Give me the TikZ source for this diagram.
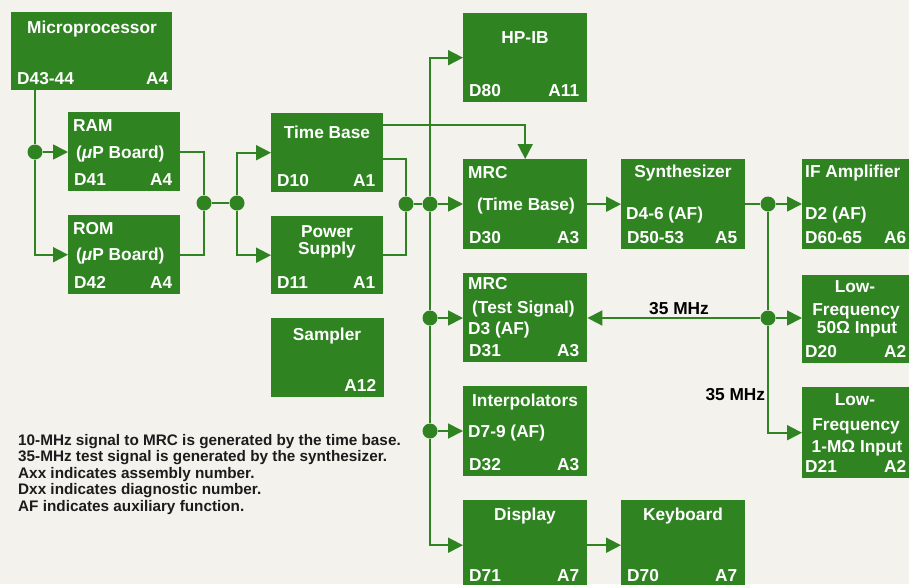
\documentclass[tikz,border=0pt]{standalone}
\usepackage{fontspec}
\setmainfont{Liberation Sans}
\usetikzlibrary{arrows.meta}

\begin{document}
\begin{tikzpicture}[x=1pt, y=-1pt,
    block/.style={fill=boxGreen, inner sep=0pt, anchor=north west},
    lbl/.style={text=white, inner sep=0pt, font=\bfseries\fontsize{17.3}{20}\selectfont},
    dnum/.style={lbl, anchor=base west, xshift=6pt, yshift=6pt},
    anum/.style={lbl, anchor=base east, xshift=-8pt, yshift=6pt},
    wire/.style={draw=boxGreen, line width=1.8pt},
    arr/.style={wire, -{Triangle[length=15pt, width=15pt]}},
    dot/.style={circle, fill=boxGreen, inner sep=0pt, minimum size=15pt},
    freq/.style={text=black, font=\bfseries\fontsize{17.3}{20}\selectfont}]

    % Define colours
    \definecolor{boxGreen}{HTML}{2F8321}
    \definecolor{paperColour}{HTML}{F4F2ED}
    \definecolor{noteColour}{HTML}{1C1C1C}

    % Paper
    \fill[paperColour] (0,0) rectangle (909,584);
    \useasboundingbox (0,0) rectangle (909,584);

    % Draw blocks
    \node[block, minimum width=161pt, minimum height=78pt] (micro) at (11,12) {};
    \node[block, minimum width=112pt, minimum height=79pt] (ram) at (68,112) {};
    \node[block, minimum width=112pt, minimum height=79pt] (rom) at (68,215) {};
    \node[block, minimum width=112pt, minimum height=79pt] (tb) at (271,113) {};
    \node[block, minimum width=112pt, minimum height=78pt] (ps) at (271,216) {};
    \node[block, minimum width=113pt, minimum height=79pt] (sampler) at (271,318) {};
    \node[block, minimum width=124pt, minimum height=89pt] (hpib) at (463,13) {};
    \node[block, minimum width=124pt, minimum height=90pt] (mrctb) at (463,159) {};
    \node[block, minimum width=124pt, minimum height=89pt] (mrcts) at (463,273) {};
    \node[block, minimum width=124pt, minimum height=90pt] (interp) at (463,386) {};
    \node[block, minimum width=124pt, minimum height=90pt] (disp) at (463,500) {};
    \node[block, minimum width=124pt, minimum height=90pt] (keyb) at (621,500) {};
    \node[block, minimum width=124pt, minimum height=90pt] (synth) at (621,159) {};
    \node[block, minimum width=118pt, minimum height=90pt] (ifamp) at (802,159) {};
    \node[block, minimum width=118pt, minimum height=88pt] (lfa) at (802,275) {};
    \node[block, minimum width=118pt, minimum height=91pt] (lfb) at (802,387) {};

    % Block texts
    \node[lbl, anchor=base] (microT) at (92,33) {Microprocessor};
    \node[dnum] (microD) at (micro.south west) {D43-44};
    \node[anum, xshift=4pt] (microA) at (micro.south east) {A4};

    \node[lbl, anchor=base west] (ramT) at (73,131) {RAM};
    \node[lbl, anchor=base west] (ramB) at (76,158) {(\textit{μ}P Board)};
    \node[dnum] (ramD) at (ram.south west) {D41};
    \node[anum] (ramA) at (ram.south east) {A4};

    \node[lbl, anchor=base west] (romT) at (73,234) {ROM};
    \node[lbl, anchor=base west] (romB) at (76,260) {(\textit{μ}P Board)};
    \node[dnum] (romD) at (rom.south west) {D42};
    \node[anum] (romA) at (rom.south east) {A4};

    \node[lbl, anchor=base] (tbT) at (327,138) {Time Base};
    \node[dnum] (tbD) at (tb.south west) {D10};
    \node[anum] (tbA) at (tb.south east) {A1};

    \node[lbl, anchor=base] (psT) at (327,237) {Power};
    \node[lbl, anchor=base] (psB) at (327,254) {Supply};
    \node[dnum] (psD) at (ps.south west) {D11};
    \node[anum] (psA) at (ps.south east) {A1};

    \node[lbl, anchor=base] (samplerT) at (327,340) {Sampler};
    \node[anum] (samplerA) at (sampler.south east) {A12};

    \node[lbl, anchor=base] (hpibT) at (525,43) {HP-IB};
    \node[dnum] (hpibD) at (hpib.south west) {D80};
    \node[anum] (hpibA) at (hpib.south east) {A11};

    \node[lbl, anchor=base west] (mrctbT) at (468,178) {MRC};
    \node[lbl, anchor=base] (mrctbB) at (526,210) {(Time Base)};
    \node[dnum] (mrctbD) at (mrctb.south west) {D30};
    \node[anum] (mrctbA) at (mrctb.south east) {A3};

    \node[lbl, anchor=base west] (mrctsT) at (468,289) {MRC};
    \node[lbl, anchor=base west] (mrctsB) at (472,313) {(Test Signal)};
    \node[lbl, anchor=base west] (mrctsC) at (468,334) {D3 (AF)};
    \node[dnum] (mrctsD) at (mrcts.south west) {D31};
    \node[anum] (mrctsA) at (mrcts.south east) {A3};

    \node[lbl, anchor=base] (interpT) at (525,406) {Interpolators};
    \node[lbl, anchor=base west] (interpB) at (468,437) {D7-9 (AF)};
    \node[dnum] (interpD) at (interp.south west) {D32};
    \node[anum] (interpA) at (interp.south east) {A3};

    \node[lbl, anchor=base] (dispT) at (525,520) {Display};
    \node[dnum, yshift=3pt] (dispD) at (disp.south west) {D71};
    \node[anum, yshift=3pt] (dispA) at (disp.south east) {A7};

    \node[lbl, anchor=base] (keybT) at (683,520) {Keyboard};
    \node[dnum, yshift=3pt] (keybD) at (keyb.south west) {D70};
    \node[anum, yshift=3pt] (keybA) at (keyb.south east) {A7};

    \node[lbl, anchor=base] (synthT) at (683,177) {Synthesizer};
    \node[lbl, anchor=base west] (synthB) at (626,219) {D4-6 (AF)};
    \node[dnum] (synthD) at (synth.south west) {D50-53};
    \node[anum] (synthA) at (synth.south east) {A5};

    \node[lbl, anchor=base west] (ifampT) at (805,177) {IF Amplifier};
    \node[lbl, anchor=base west] (ifampB) at (805,219) {D2 (AF)};
    \node[dnum, xshift=-3pt] (ifampD) at (ifamp.south west) {D60-65};
    \node[anum, xshift=-6pt] (ifampA) at (ifamp.south east) {A6};

    \node[lbl, anchor=base] (lfaT) at (855,292) {Low-};
    \node[lbl, anchor=base] (lfaB) at (856,315) {Frequency};
    \node[lbl, anchor=base] (lfaC) at (857,333) {50Ω Input};
    \node[dnum, xshift=-3pt] (lfaD) at (lfa.south west) {D20};
    \node[anum, xshift=-6pt] (lfaA) at (lfa.south east) {A2};

    \node[lbl, anchor=base] (lfbT) at (855,405) {Low-};
    \node[lbl, anchor=base] (lfbB) at (856,430) {Frequency};
    \node[lbl, anchor=base] (lfbC) at (857,452) {1-MΩ Input};
    \node[dnum, xshift=-3pt] (lfbD) at (lfb.south west) {D21};
    \node[anum, xshift=-6pt] (lfbA) at (lfb.south east) {A2};

    % Junction dots
    \node[dot] (d1) at (35,152) {};
    \node[dot] (d2) at (204,203) {};
    \node[dot] (d3) at (237,203) {};
    \node[dot] (d4) at (406,204) {};
    \node[dot] (d5) at (430,204) {};
    \node[dot] (d6) at (430,318) {};
    \node[dot] (d7) at (430,431) {};
    \node[dot] (d8) at (768,204) {};
    \node[dot] (d9) at (768,318) {};

    % Microprocessor to memories
    \draw[wire] (micro.south -| d1) -- (d1);
    \draw[arr] (d1) -- (ram.west |- d1);
    \draw[arr] (d1) |- (rom.west);
    \draw[wire] (ram.east) -| (d2);
    \draw[wire] (rom.east) -| (d2);
    \draw[wire] (d2) -- (d3);

    % Memories to time base and power supply
    \draw[arr] (d3) |- (tb.west);
    \draw[arr] (d3) |- (ps.west);
    \draw[wire] ([yshift=-6.5pt]tb.east) -| (d4);
    \draw[wire] (ps.east) -| (d4);
    \draw[wire] (d4) -- (d5);
    \draw[arr] ([yshift=27.5pt]tb.east) -| (mrctb.north);

    % Bus
    \draw[arr] (d5) |- (hpib.west);
    \draw[arr] (d5) -- (mrctb.west |- d5);
    \draw[wire] (d5) -- (d6);
    \draw[arr] (d6) -- (mrcts.west |- d6);
    \draw[wire] (d6) -- (d7);
    \draw[arr] (d7) -- (interp.west |- d7);
    \draw[arr] (d7) |- (disp.west);
    \draw[arr] (disp.east) -- (keyb.west);

    % Synthesizer and inputs
    \draw[arr] (mrctb.east) -- (synth.west |- mrctb.east);
    \draw[wire] (synth.east |- d8) -- (d8);
    \draw[arr] (d8) -- (ifamp.west |- d8);
    \draw[wire] (d8) -- (d9);
    \draw[arr] (d9) -- (lfa.west |- d9);
    \draw[arr] (d9) -- (mrcts.east |- d9)
        node[freq, pos=0.47, above, inner sep=2pt] (mhzA) {35 MHz};
    \draw[arr] (d9) |- (lfb.west)
        node[freq, pos=0.32, left, inner sep=2pt] (mhzB) {35 MHz};

    % Notes
    \node[anchor=north west, inner sep=0pt, align=left, text=noteColour,
          font=\bfseries\fontsize{15.3}{16.5}\selectfont] (notes) at (18,434)
        {10-MHz signal to MRC is generated by the time base.\\
         35-MHz test signal is generated by the synthesizer.\\
         Axx indicates assembly number.\\
         Dxx indicates diagnostic number.\\
         AF indicates auxiliary function.};

\end{tikzpicture}
\end{document}
